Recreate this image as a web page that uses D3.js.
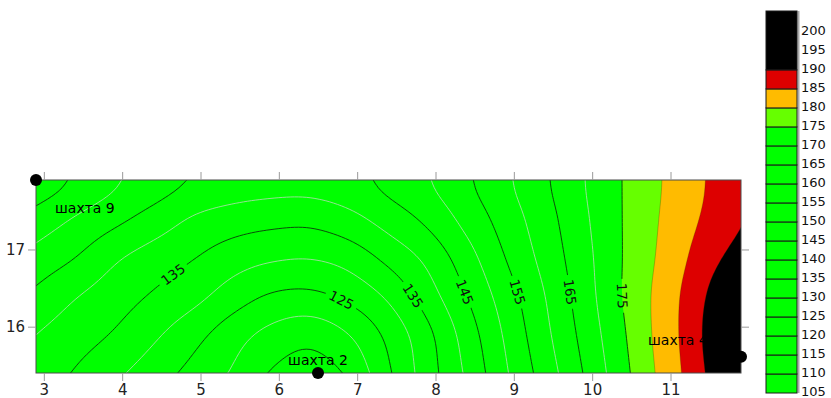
<!DOCTYPE html>
<html>
<head>
<meta charset="utf-8">
<script src="https://cdn.jsdelivr.net/npm/d3@7"></script>
<style>
  body { margin: 0; background: #fff; }
  svg text { font-family: "DejaVu Sans", sans-serif; }
</style>
</head>
<body>
<svg id="chart" width="831" height="398"></svg>
<script>
// ---- survey grid (x along the section, y across it), values per row from north to south ----
const gridX = [2.9, 3.4, 3.9, 4.4, 4.9, 5.4, 5.9, 6.4, 6.9, 7.4, 7.9, 8.4, 8.9, 9.4, 9.9, 10.4, 10.9, 11.4, 11.9];
const gridY = [17.9, 17.4, 16.9, 16.4, 15.9, 15.4];
const zRow179 = [158.0, 154.3, 150.6, 147.5, 144.6, 142.8, 141.9, 141.8, 143.2, 146.3, 149.6, 154.2, 159.1, 164.3, 169.9, 175.2, 180.1, 184.6, 189.0];
const zRow174 = [153.0, 149.6, 146.4, 143.0, 139.5, 137.6, 136.6, 136.4, 138.5, 142.2, 146.2, 151.7, 157.3, 163.0, 169.2, 175.2, 180.5, 185.3, 189.5];
const zRow169 = [148.3, 145.1, 140.8, 137.8, 135.3, 132.5, 130.8, 130.3, 132.1, 136.5, 141.3, 148.0, 155.2, 161.7, 168.4, 175.2, 181.1, 187.1, 192.5];
const zRow164 = [143.9, 140.3, 137.4, 134.5, 131.7, 127.7, 124.5, 123.9, 126.4, 130.9, 137.7, 145.1, 152.6, 160.0, 167.7, 175.3, 182.0, 189.1, 198.0];
const zRow159 = [140.0, 137.3, 134.6, 130.9, 126.8, 122.3, 118.5, 116.7, 120.0, 126.3, 133.7, 142.3, 150.8, 158.8, 166.6, 174.5, 182.1, 189.8, 203.0];
const zRow154 = [138.0, 134.6, 131.1, 127.4, 123.5, 119.6, 114.6, 112.5, 115.9, 124.3, 132.7, 140.8, 149.5, 157.3, 165.3, 173.6, 181.5, 189.1, 200.0];

// ---- contour levels, colour classes, ticks ----
const lineLevels = [115, 120, 125, 130, 135, 140, 145, 150, 155, 160, 165, 170, 175];
const boldLevels = [115, 125, 135, 145, 155, 165, 175];
const fillLevels = [105, 175, 180, 185, 190];
const fillColors = ["#00ff00", "#66ff00", "#ffbb00", "#dd0000", "#000000"];
const xTicks = [3, 4, 5, 6, 7, 8, 9, 10, 11];
const yTicks = [16, 17];
const barBounds = [105, 110, 115, 120, 125, 130, 135, 140, 145, 150, 155, 160, 165, 170, 175, 180, 185, 190, 205.5];
const barLabels = [105, 110, 115, 120, 125, 130, 135, 140, 145, 150, 155, 160, 165, 170, 175, 180, 185, 190, 195, 200];

// ---- wells ----
const wellNames = ["шахта 9", "шахта 2", "шахта 4"];
const wellX = [2.9, 6.5, 11.9];
const wellY = [17.9, 15.4, 15.61];

// ---- labelled isolines: level and approximate place along the line ----
const labelLevels = [135, 125, 135, 145, 155, 165, 175];
const labelAtX = [4.64, 6.79, 7.68, 8.38, 9.04, 9.72, 10.42];
const labelAtY = [16.70, 16.32, 16.37, 16.44, 16.46, 16.47, 16.42];

// ---------------------------------------------------------------------------
const svg = d3.select("#chart");
const plot = { left: 36, right: 741, top: 180, bottom: 373 };
const x = d3.scaleLinear().domain([2.9, 11.9]).range([plot.left, plot.right]);
const y = d3.scaleLinear().domain([15.4, 17.9]).range([plot.bottom, plot.top]);

const zRows = [zRow179, zRow174, zRow169, zRow164, zRow159, zRow154];
const NX = gridX.length, NY = gridY.length;

// node lookup with ghost nodes: linear beyond the ends of each row, mirrored beyond the north edge
function node(ix, iy) {
  let ry = iy;
  if (iy < 0) ry = -iy;
  let v;
  const pick = r => {
    const row = zRows[r];
    if (ix < 0) return 2 * row[0] - row[1];
    if (ix > NX - 1) return 2 * row[NX - 1] - row[NX - 2];
    return row[ix];
  };
  if (ry > NY - 1) v = 2 * pick(NY - 1) - pick(NY - 2);
  else v = pick(ry);
  return v;
}
function cr(p0, p1, p2, p3, t) {
  return 0.5 * (2 * p1 + (-p0 + p2) * t + (2 * p0 - 5 * p1 + 4 * p2 - p3) * t * t + (-p0 + 3 * p1 - 3 * p2 + p3) * t * t * t);
}
function surface(u, v) {
  const iu = Math.min(Math.floor(u), NX - 2), tu = u - iu;
  const iv = Math.min(Math.floor(v), NY - 2), tv = v - iv;
  const col = [];
  for (let r = iv - 1; r <= iv + 2; r++) {
    col.push(cr(node(iu - 1, r), node(iu, r), node(iu + 1, r), node(iu + 2, r), tu));
  }
  return cr(col[0], col[1], col[2], col[3], tv);
}

const sub = 10;
const nx = (NX - 1) * sub + 1, ny = (NY - 1) * sub + 1;
const stepX = (gridX[1] - gridX[0]) / sub, stepY = (gridY[0] - gridY[1]) / sub;
let fine = new Array(nx * ny);
for (let j = 0; j < ny; j++) for (let i = 0; i < nx; i++) fine[j * nx + i] = surface(i / sub, j / sub);

// light gaussian smoothing of the lattice (odd reflection at the borders keeps trends)
function smoothLattice(src, w, h, sigma) {
  const rad = Math.ceil(sigma * 2.5);
  const k = d3.range(-rad, rad + 1).map(t => Math.exp(-t * t / (2 * sigma * sigma)));
  const ks = d3.sum(k);
  const at = (arr, n, get, i) => {
    if (i < 0) return 2 * get(0) - get(-i);
    if (i > n - 1) return 2 * get(n - 1) - get(2 * (n - 1) - i);
    return get(i);
  };
  const tmp = new Array(w * h), out = new Array(w * h);
  for (let j = 0; j < h; j++) for (let i = 0; i < w; i++) {
    let s = 0;
    for (let t = -rad; t <= rad; t++) s += k[t + rad] * at(src, w, q => src[j * w + q], i + t);
    tmp[j * w + i] = s / ks;
  }
  for (let j = 0; j < h; j++) for (let i = 0; i < w; i++) {
    let s = 0;
    for (let t = -rad; t <= rad; t++) s += k[t + rad] * at(tmp, h, q => tmp[q * w + i], j + t);
    out[j * w + i] = s / ks;
  }
  return out;
}
fine = smoothLattice(fine, nx, ny, 1.8);

const toPx = (c, r) => [x(gridX[0] + (c - 0.5) * stepX), y(gridY[0] - (r - 0.5) * stepY)];
const path = d3.geoPath(d3.geoTransform({
  point(c, r) { const p = toPx(c, r); this.stream.point(p[0], p[1]); }
}));

const defs = svg.append("defs");
defs.append("clipPath").attr("id", "plotClip")
  .append("rect").attr("x", plot.left).attr("y", plot.top)
  .attr("width", plot.right - plot.left).attr("height", plot.bottom - plot.top);

// filled classes
const fills = d3.contours().size([nx, ny]).thresholds(fillLevels)(fine);
const gFill = svg.append("g").attr("clip-path", "url(#plotClip)");
gFill.append("rect").attr("x", plot.left).attr("y", plot.top)
  .attr("width", plot.right - plot.left).attr("height", plot.bottom - plot.top)
  .attr("fill", fillColors[0]);
gFill.selectAll("path.band").data(fills).join("path")
  .attr("class", "band")
  .attr("d", path)
  .attr("fill", d => fillColors[fillLevels.indexOf(d.value)])
  .attr("stroke", d => d.value > 175 ? "rgba(60,40,0,0.45)" : "none")
  .attr("stroke-width", 0.6);

// isolines and their labels
const lines = d3.contours().size([nx, ny]).thresholds(lineLevels)(fine);

function nearestOnLevel(level, px, py) {
  const geom = lines.find(g => g.value === level);
  let best = null;
  geom.coordinates.forEach(poly => poly.forEach(ring => {
    const pts = ring.map(([c, r]) => toPx(c, r));
    pts.forEach((p, k) => {
      if (p[0] < plot.left + 2 || p[0] > plot.right - 2 || p[1] < plot.top + 2 || p[1] > plot.bottom - 2) return;
      const d = (p[0] - px) ** 2 + (p[1] - py) ** 2;
      if (!best || d < best.d) {
        const a = pts[Math.max(0, k - 4)], b = pts[Math.min(pts.length - 1, k + 4)];
        let ang = Math.atan2(b[1] - a[1], b[0] - a[0]) * 180 / Math.PI;
        if (ang > 90) ang -= 180;
        if (ang <= -90) ang += 180;
        best = { d, p, ang };
      }
    });
  }));
  return best;
}
const labels = labelLevels.map((lv, i) => {
  const hit = nearestOnLevel(lv, x(labelAtX[i]), y(labelAtY[i]));
  return { level: lv, px: hit.p[0], py: hit.p[1], ang: hit.ang };
});

const mask = defs.append("mask").attr("id", "labelGaps")
  .attr("maskUnits", "userSpaceOnUse").attr("x", 0).attr("y", 0).attr("width", 831).attr("height", 398);
mask.append("rect").attr("width", 831).attr("height", 398).attr("fill", "#fff");
mask.selectAll("rect.gap").data(labels).join("rect")
  .attr("class", "gap")
  .attr("x", -17).attr("y", -7).attr("width", 34).attr("height", 14)
  .attr("fill", "#000")
  .attr("transform", d => `translate(${d.px},${d.py}) rotate(${d.ang})`);

const gLines = svg.append("g").attr("clip-path", "url(#plotClip)")
  .append("g").attr("mask", "url(#labelGaps)");
gLines.selectAll("path").data(lines).join("path")
  .attr("d", path)
  .attr("fill", "none")
  .attr("stroke", d => boldLevels.includes(d.value) ? "#0a3a0a" : "#b9d9b9")
  .attr("stroke-width", d => boldLevels.includes(d.value) ? 0.9 : 0.8);

svg.append("g").selectAll("text").data(labels).join("text")
  .attr("transform", d => `translate(${d.px},${d.py}) rotate(${d.ang})`)
  .attr("text-anchor", "middle")
  .attr("dy", "0.36em")
  .attr("font-size", 13.5)
  .attr("fill", "#111")
  .text(d => d.level);

// plot frame
svg.append("rect").attr("x", plot.left).attr("y", plot.top)
  .attr("width", plot.right - plot.left).attr("height", plot.bottom - plot.top)
  .attr("fill", "none").attr("stroke", "#4d4d4d").attr("stroke-width", 1);

// axes
function styleAxis(g) {
  g.select(".domain").remove();
  g.selectAll(".tick line").attr("stroke", "#9a9a9a");
  g.selectAll(".tick text").attr("font-family", "DejaVu Sans, sans-serif").attr("font-size", 15).attr("fill", "#222");
}
svg.append("g").attr("transform", `translate(0,${plot.bottom})`)
  .call(d3.axisBottom(x).tickValues(xTicks).tickSize(8).tickPadding(3).tickFormat(d3.format("d")))
  .call(styleAxis);
svg.append("g").attr("transform", `translate(0,${plot.top})`)
  .call(d3.axisTop(x).tickValues(xTicks).tickSize(8).tickFormat(""))
  .call(styleAxis);
svg.append("g").attr("transform", `translate(${plot.left},0)`)
  .call(d3.axisLeft(y).tickValues(yTicks).tickSize(8).tickPadding(3).tickFormat(d3.format("d")))
  .call(styleAxis);
svg.append("g").attr("transform", `translate(${plot.right},0)`)
  .call(d3.axisRight(y).tickValues(yTicks).tickSize(8).tickFormat(""))
  .call(styleAxis);

// wells
const wellLabelOffset = { "шахта 9": [19, 33, "start"], "шахта 2": [0, -8, "middle"], "шахта 4": [-93, -12, "start"] };
const wells = wellNames.map((n, i) => ({ name: n, x: wellX[i], y: wellY[i] }));
svg.append("g").selectAll("text").data(wells).join("text")
  .attr("x", d => x(d.x) + wellLabelOffset[d.name][0])
  .attr("y", d => y(d.y) + wellLabelOffset[d.name][1])
  .attr("text-anchor", d => wellLabelOffset[d.name][2])
  .attr("font-size", 14)
  .attr("fill", "#000")
  .text(d => d.name);
svg.append("g").selectAll("circle").data(wells).join("circle")
  .attr("cx", d => x(d.x)).attr("cy", d => y(d.y)).attr("r", 6)
  .attr("fill", "#000");

// colour scale bar
const cb = d3.scaleLinear().domain([105, 205.5]).range([393, 11]);
const bar = { x: 766, w: 31 };
const bandColor = v => fillColors[d3.bisectRight(fillLevels, v) - 1];
const segs = d3.pairs(barBounds);
const gBar = svg.append("g");
gBar.append("line").attr("x1", bar.x + bar.w + 1.5).attr("x2", bar.x + bar.w + 1.5)
  .attr("y1", cb(barBounds[barBounds.length - 1])).attr("y2", cb(barBounds[0]))
  .attr("stroke", "#aaa").attr("stroke-width", 2);
gBar.selectAll("rect").data(segs).join("rect")
  .attr("x", bar.x).attr("width", bar.w)
  .attr("y", d => cb(d[1])).attr("height", d => cb(d[0]) - cb(d[1]))
  .attr("fill", d => bandColor(d[0]))
  .attr("stroke", "#1a1a1a").attr("stroke-width", 1);
gBar.selectAll("text").data(barLabels).join("text")
  .attr("x", 801).attr("y", d => cb(d) - 1).attr("dy", "0.33em")
  .attr("font-size", 13).attr("fill", "#111")
  .text(d => d);
</script>
</body>
</html>
